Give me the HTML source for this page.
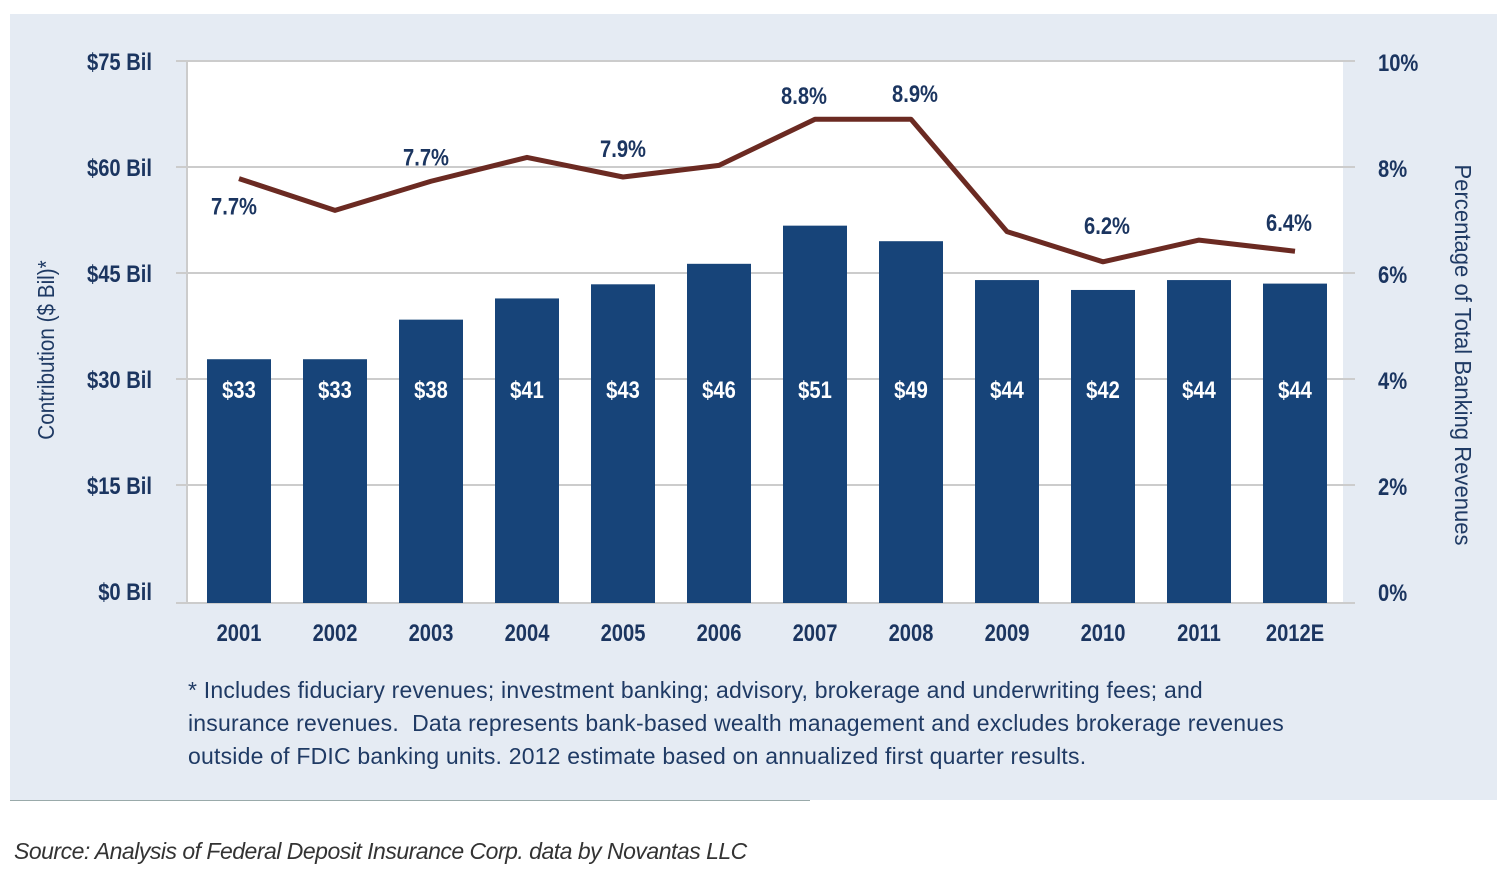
<!DOCTYPE html>
<html><head><meta charset="utf-8"><style>
body{margin:0;width:1500px;height:884px;background:#fff;overflow:hidden;position:relative;font-family:"Liberation Sans",sans-serif}
#panel{position:absolute;left:10px;top:14px;width:1487px;height:786px;background:#e5ebf3}
#rule{position:absolute;left:10px;top:800px;width:800px;height:1px;background:#9aa}
.foot{position:absolute;left:188px;top:674px;font-size:23px;line-height:33px;color:#1f3a64;font-family:"Liberation Sans",sans-serif;letter-spacing:0.2px}
.src{position:absolute;left:14px;top:838px;font-size:23px;font-style:italic;color:#333;font-family:"Liberation Sans",sans-serif;letter-spacing:-0.5px}
svg{position:absolute;left:0;top:0}
svg text{font-family:"Liberation Sans",sans-serif;font-weight:bold}
</style></head><body>
<div id="panel"></div>
<div id="rule"></div>
<svg id="chart" width="1500" height="884"></svg>
<div class="foot">* Includes fiduciary revenues; investment banking; advisory, brokerage and underwriting fees; and<br>insurance revenues.&nbsp; Data represents bank-based wealth management and excludes brokerage revenues<br>outside of FDIC banking units. 2012 estimate based on annualized first quarter results.</div>
<div class="src">Source: Analysis of Federal Deposit Insurance Corp. data by Novantas LLC</div>
<script>
const years=["2001","2002","2003","2004","2005","2006","2007","2008","2009","2010","2011","2012E"];
const contrib=[32.8,32.8,38.4,41.4,43.4,46.3,51.7,49.5,44,42.6,44,43.5];
const barLabels=["$33","$33","$38","$41","$43","$46","$51","$49","$44","$42","$44","$44"];
const pct=[7.8,7.2,7.75,8.2,7.83,8.05,8.92,8.92,6.8,6.23,6.64,6.43];
const pctLabels=["7.7%","","7.7%","","7.9%","","8.8%","8.9%","","6.2%","","6.4%"];
const leftTicks=["$0 Bil","$15 Bil","$30 Bil","$45 Bil","$60 Bil","$75 Bil"];
const rightTicks=["0%","2%","4%","6%","8%","10%"];
const NS="http://www.w3.org/2000/svg";
const svg=document.getElementById('chart');
function el(t,a,txt){const e=document.createElementNS(NS,t);for(const k in a)e.setAttribute(k,a[k]);if(txt!==undefined)e.textContent=txt;svg.appendChild(e);return e;}
function tx(x,y,anchor,size,fill,txt,sx){return el('text',{x:0,y:0,'text-anchor':anchor,'font-size':size,fill:fill,transform:'translate('+x+','+y+') scale('+(sx||0.84)+',1)'},txt);}
const x0=191,band=96,bw=64,base=603;
const yL=v=>591-v*(530/75);
const yR=p=>592-p*53;
const xc=i=>x0+band*i+band/2;
const bg=el('rect',{x:187,y:61,width:1156,height:542,fill:'#fff'});

const gridY=[603,485,379,273,167,61];
leftTicks.forEach((t,i)=>{
  const g=el('line',{x1:176,x2:1355,y1:gridY[i],y2:gridY[i],stroke:'#ccc','stroke-width':2});
  
  const l=tx(152,yL(i*15)+9,'end',24,'#1b3560',t);
  
});
rightTicks.forEach((t,i)=>{
  const l=tx(1378,yR(i*2)+9,'start',24,'#1b3560',t);
  
});
const ax=el('line',{x1:187,x2:187,y1:61,y2:603,stroke:'#ccc','stroke-width':2});

years.forEach((yr,i)=>{
  const top=yL(contrib[i]);
  const b=el('rect',{x:xc(i)-bw/2,y:top,width:bw,height:base-top,fill:'#174479'});
  
  const v=tx(xc(i),398,'middle',24,'#fff',barLabels[i]);
  
  const xl=tx(xc(i),641,'middle',24,'#1b3560',yr);
  
});
const pts=pct.map((p,i)=>xc(i)+','+yR(p)).join(' ');
const ln=el('polyline',{points:pts,fill:'none',stroke:'#6b2a22','stroke-width':5,'stroke-linejoin':'round'});

const offs=[[-5,36],[0,0],[-5,-16],[0,0],[0,-20],[0,0],[-11,-15],[4,-17],[0,0],[4,-28],[0,0],[-6,-20]];
pctLabels.forEach((t,i)=>{if(!t)return;
  const l=tx(xc(i)+offs[i][0],yR(pct[i])+offs[i][1],'middle',24,'#1b3560',t);
  
});
const lt=el('text',{x:0,y:0,'font-size':23,fill:'#1f3a64','text-anchor':'middle',transform:'translate(54,350) rotate(-90) scale(0.9,1)'},'Contribution ($ Bil)*');
lt.style.fontWeight='normal';
const rt=el('text',{x:0,y:0,'font-size':23,fill:'#1f3a64','text-anchor':'middle',transform:'translate(1455,355) rotate(90) scale(0.96,1)'},'Percentage of Total Banking Revenues');
rt.style.fontWeight='normal';
</script>
</body></html>
